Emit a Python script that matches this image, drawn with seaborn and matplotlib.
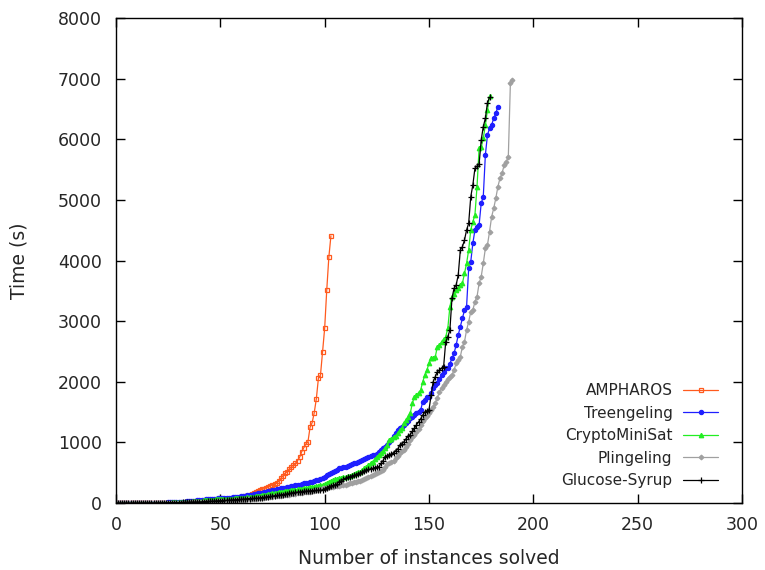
import numpy as np
import pandas as pd
import matplotlib
matplotlib.use("Agg")
import matplotlib.pyplot as plt
import seaborn as sns

# ---------------- data (time in seconds per solved instance, sorted) ----------------
solvers = ["AMPHAROS", "Treengeling", "CryptoMiniSat", "Plingeling", "Glucose-Syrup"]

ampharos = [
    0, 0, 0, 0, 0, 0, 1, 1, 1, 1,
    1, 1, 2, 2, 2, 2, 2, 3, 3, 3,
    3, 3, 4, 4, 4, 4, 5, 5, 5, 6,
    6, 6, 7, 7, 7, 8, 8, 8, 9, 9,
    10, 11, 12, 13, 14, 16, 18, 20, 23, 26,
    29, 32, 36, 40, 45, 50, 55, 62, 70, 80,
    90, 100, 110, 120, 135, 150, 165, 180, 195, 212,
    225, 238, 250, 265, 285, 300, 310, 325, 370, 408,
    450, 490, 517, 560, 599, 627, 655, 700, 754, 847,
    912, 974, 1012, 1249, 1325, 1490, 1716, 2057, 2112, 2497,
    2883, 3515, 4054, 4406,
]

treengeling = [
    0, 0, 0, 0, 0, 1, 1, 1, 1, 1,
    2, 2, 2, 2, 3, 3, 3, 4, 4, 5,
    5, 6, 6, 7, 8, 9, 10, 11, 12, 14,
    16, 18, 20, 23, 26, 30, 33, 36, 40, 44,
    48, 52, 56, 60, 63, 66, 69, 72, 74, 76,
    77, 79, 81, 84, 87, 90, 93, 96, 100, 104,
    110, 116, 122, 128, 134, 140, 146, 152, 160, 166,
    172, 179, 186, 193, 200, 214, 220, 226, 233, 240,
    247, 254, 262, 269, 276, 283, 290, 298, 305, 312,
    325, 330, 337, 344, 351, 362, 372, 382, 395, 407,
    430, 455, 480, 495, 516, 530, 548, 572, 580, 590,
    599, 615, 630, 642, 654, 668, 682, 695, 709, 725,
    745, 764, 775, 785, 792, 815, 845, 874, 900, 930,
    957, 1000, 1039, 1100, 1150, 1204, 1240, 1259, 1290, 1315,
    1350, 1397, 1424, 1450, 1479, 1500, 1534, 1671, 1699, 1753,
    1753, 1809, 1892, 1946, 1974, 2040, 2111, 2166, 2222, 2222,
    2300, 2386, 2469, 2606, 2771, 2908, 3046, 3183, 3238, 3870,
    3980, 4283, 4503, 4558, 4585, 4943, 5052, 5740, 6070, 6180,
    6235, 6345, 6427, 6537,
]

cryptominisat = [
    0, 0, 0, 0, 0, 0, 1, 1, 1, 1,
    1, 2, 2, 2, 2, 3, 3, 3, 3, 4,
    4, 5, 5, 6, 6, 7, 8, 9, 10, 11,
    12, 14, 16, 18, 20, 22, 24, 27, 30, 33,
    36, 39, 42, 45, 48, 51, 54, 57, 60, 63,
    65, 67, 69, 71, 72, 73, 74, 75, 76, 77,
    80, 84, 88, 92, 96, 100, 105, 110, 115, 120,
    125, 130, 138, 146, 153, 160, 166, 172, 178, 184,
    190, 195, 200, 205, 210, 215, 220, 226, 232, 237,
    240, 242, 250, 258, 265, 272, 280, 288, 293, 297,
    310, 330, 351, 365, 379, 390, 400, 407, 415, 425,
    434, 440, 450, 462, 475, 490, 505, 516, 545, 575,
    599, 630, 660, 681, 720, 764, 790, 820, 860, 902,
    957, 1039, 1060, 1094, 1110, 1150, 1200, 1232, 1315, 1369,
    1420, 1479, 1644, 1753, 1781, 1820, 1864, 2001, 2111, 2194,
    2304, 2386, 2400, 2413, 2578, 2600, 2660, 2700, 2743, 2880,
    3238, 3403, 3450, 3513, 3541, 3600, 3623, 3788, 3953, 4173,
    4503, 4640, 4750, 5217, 5850, 5867, 6015, 6235, 6482, 6710,
]

plingeling = [
    0, 0, 0, 0, 0, 0, 0, 0, 1, 1,
    1, 1, 1, 1, 2, 2, 2, 2, 2, 3,
    3, 3, 3, 4, 4, 4, 5, 5, 5, 6,
    6, 7, 7, 8, 8, 9, 10, 10, 11, 12,
    13, 14, 15, 16, 17, 18, 20, 22, 24, 26,
    28, 30, 32, 34, 36, 38, 40, 43, 46, 49,
    52, 55, 58, 61, 64, 67, 70, 73, 76, 80,
    84, 88, 92, 96, 100, 104, 108, 112, 116, 120,
    125, 130, 135, 140, 145, 150, 155, 160, 165, 170,
    175, 180, 185, 190, 195, 200, 210, 220, 230, 240,
    250, 255, 259, 265, 270, 275, 280, 285, 290, 297,
    305, 315, 324, 333, 342, 351, 360, 370, 379, 395,
    410, 434, 450, 465, 480, 489, 505, 520, 544, 600,
    640, 660, 680, 700, 737, 780, 820, 850, 880, 930,
    980, 1039, 1094, 1130, 1177, 1220, 1287, 1350, 1397, 1430,
    1480, 1530, 1580, 1650, 1740, 1830, 1900, 1950, 2000, 2050,
    2080, 2111, 2194, 2304, 2360, 2413, 2578, 2660, 2853, 2990,
    3155, 3183, 3320, 3403, 3623, 3733, 3953, 4200, 4255, 4475,
    4722, 4861, 5026, 5217, 5356, 5438, 5575, 5630, 5712, 6933,
    6977,
]

glucose_syrup = [
    0, 0, 0, 0, 0, 0, 0, 1, 1, 1,
    1, 1, 1, 2, 2, 2, 2, 3, 3, 3,
    3, 4, 4, 4, 5, 5, 6, 6, 7, 7,
    8, 8, 9, 10, 11, 12, 13, 14, 15, 16,
    18, 20, 22, 24, 26, 28, 30, 32, 34, 36,
    38, 40, 42, 44, 46, 48, 50, 53, 56, 59,
    62, 65, 68, 71, 74, 77, 77, 77, 80, 85,
    90, 95, 100, 105, 110, 115, 120, 125, 130, 135,
    140, 145, 150, 160, 165, 170, 175, 180, 185, 190,
    193, 196, 199, 202, 205, 207, 209, 211, 213, 214,
    230, 250, 269, 280, 290, 297, 320, 351, 370, 390,
    410, 425, 434, 445, 455, 465, 478, 489, 510, 530,
    544, 555, 565, 572, 585, 595, 599, 654, 700, 764,
    780, 795, 810, 830, 860, 890, 950, 980, 1010, 1060,
    1100, 1130, 1180, 1230, 1290, 1340, 1390, 1450, 1500, 1520,
    1540, 1781, 2001, 2084, 2166, 2194, 2222, 2249, 2660, 2743,
    2853, 3376, 3541, 3596, 3760, 4173, 4228, 4338, 4503, 4613,
    5052, 5245, 5521, 5558, 5591, 5987, 6207, 6345, 6600, 6691,
]

x_ticks = [0, 50, 100, 150, 200, 250, 300]
y_ticks = [0, 1000, 2000, 3000, 4000, 5000, 6000, 7000, 8000]
x_label = "Number of instances solved"
y_label = "Time (s)"

# ---------------- styling ----------------
sns.set_theme(style="ticks")
plt.rcParams["font.family"] = ["DejaVu Sans"]
text_color = "#262626"

colors = ["#ff5a1e", "#1f1fff", "#22ee22", "#a0a0a0", "#000000"]
markers = ["s", "o", "^", "D", "+"]
msizes = [3.0, 3.0, 3.2, 2.4, 4.2]
mfcs = ["none", None, None, None, None]

fig = plt.figure(figsize=(7.65, 5.7), dpi=100)
ax = fig.add_axes([0.1516, 0.1175, 0.8184, 0.8509])

series = [ampharos, treengeling, cryptominisat, plingeling, glucose_syrup]
for name, times, c, m, ms, fc in zip(solvers, series, colors, markers, msizes, mfcs):
    df = pd.DataFrame({"instances": np.arange(len(times)), "time": times})
    sns.lineplot(
        data=df, x="instances", y="time", ax=ax, label=name,
        color=c, linewidth=0.9, marker=m, markersize=ms,
        markeredgecolor=c, markerfacecolor=(fc if fc else c),
        markeredgewidth=0.9, estimator=None, sort=False,
    )

ax.set_xlim(0, 300)
ax.set_ylim(0, 8000)
ax.set_xticks(x_ticks)
ax.set_yticks(y_ticks)
ax.tick_params(direction="in", length=6.5, width=1.0, top=True, right=True,
               labelsize=12.5, colors="black", labelcolor=text_color)
ax.tick_params(axis="y", pad=10)
ax.tick_params(axis="x", pad=9)
for s in ax.spines.values():
    s.set_visible(True)
    s.set_color("black")
    s.set_linewidth(1.0)

ax.set_xlabel(x_label, fontsize=13.5, color=text_color, labelpad=11)
ax.set_ylabel(y_label, fontsize=13.5, color=text_color, labelpad=21)

leg = ax.legend(loc="lower right", bbox_to_anchor=(0.962, 0.03), frameon=False,
                markerfirst=False, fontsize=11, handlelength=2.3,
                handletextpad=0.7, labelspacing=0.5, borderpad=0,
                borderaxespad=0)
for t in leg.get_texts():
    t.set_color(text_color)

fig.savefig("out.png", dpi=100)
